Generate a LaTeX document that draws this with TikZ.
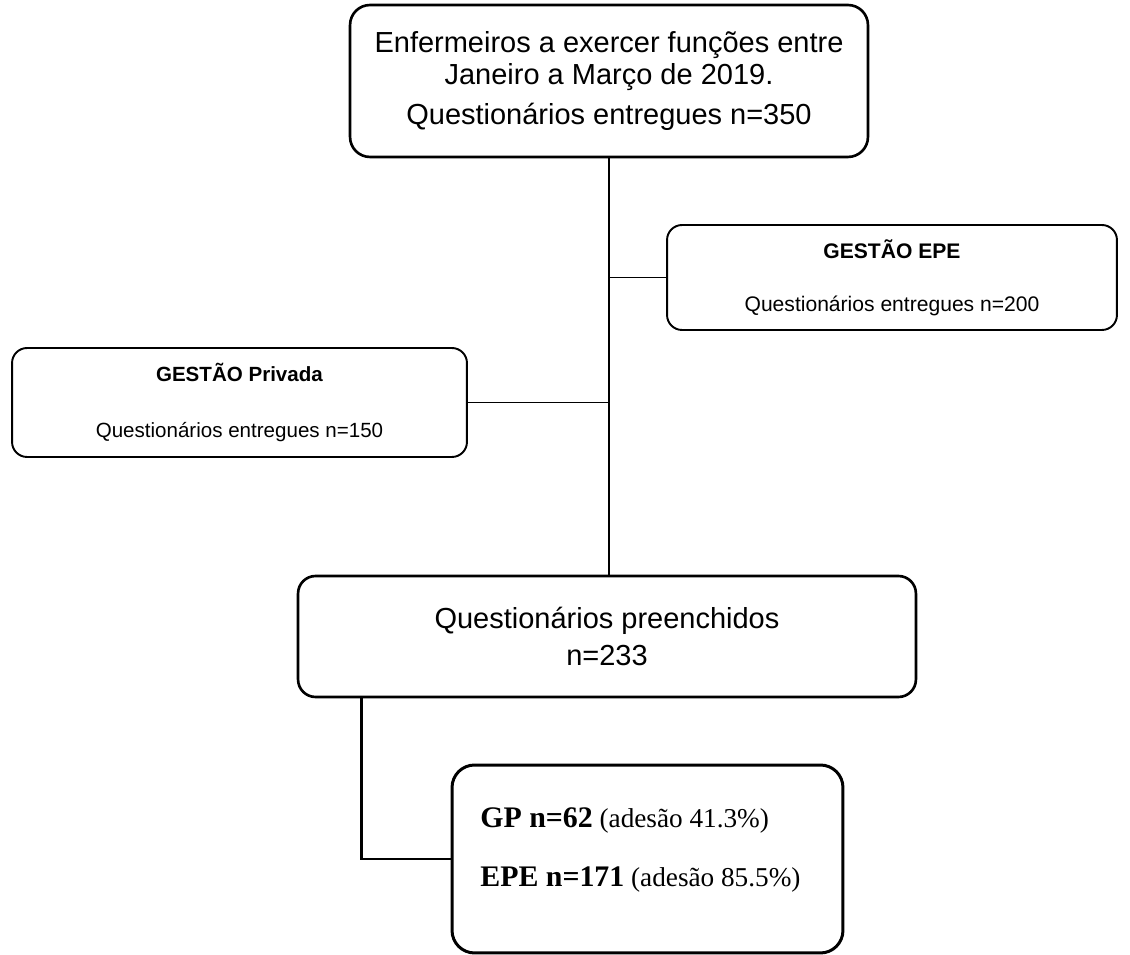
\documentclass[tikz,border=0pt]{standalone}
\usepackage{fontspec}
\setmainfont{Liberation Sans}
\newfontfamily\serifbox{Liberation Serif}
\usetikzlibrary{calc}
\begin{document}
\begin{tikzpicture}[x=0.02cm,y=-0.02cm,
    qBoxMain/.style={draw=black,line width=1.5pt,rounded corners=0.4cm,align=center,inner sep=0pt},
    qBoxSide/.style={draw=black,line width=1.1pt,rounded corners=0.3cm,align=center,inner sep=0pt},
    qLink/.style={line width=1.6pt},
    qLinkThin/.style={line width=1.1pt},
]
\useasboundingbox (0,0) rectangle (1130,955);
% Population
\node[qBoxMain,minimum width=10.36cm,minimum height=3.04cm,
      font=\fontsize{16.5}{18.1}\selectfont] (pop) at (609,81)
  {Enfermeiros a exercer funções entre\\Janeiro a Março de 2019.\\[4.6pt]Questionários entregues n=350};
% Branches
\node[qBoxSide,minimum width=9.0cm,minimum height=2.1cm,
      font=\fontsize{12}{30}\selectfont] (epe) at (892,277.5)
  {\textbf{GESTÃO EPE}\\Questionários entregues n=200};
\node[qBoxSide,minimum width=9.1cm,minimum height=2.18cm,
      font=\fontsize{11.7}{32}\selectfont] (priv) at (239.5,402.5)
  {\textbf{GESTÃO Privada}\\Questionários entregues n=150};
% Filled in
\node[qBoxMain,minimum width=12.36cm,minimum height=2.42cm,rounded corners=0.35cm,
      font=\fontsize{16.5}{21}\selectfont] (fill) at (607,636.5)
  {Questionários preenchidos\\n=233};
% Result
\node[qBoxMain,line width=1.7pt,minimum width=7.82cm,minimum height=3.76cm,rounded corners=0.45cm] (res) at (647.5,859) {};
\node[anchor=west,align=left,inner sep=0pt,font=\serifbox\fontsize{15.5}{33.5}\selectfont] (resTxt) at (480,850)
  {{\fontsize{17}{33.5}\selectfont\bfseries GP n=62} (adesão 41.3\%)\\
   {\fontsize{17}{33.5}\selectfont\bfseries EPE n=171} (adesão 85.5\%)};
% Connectors
\draw[qLink] (pop.south) -- (pop.south |- fill.north);
\draw[qLinkThin] (pop.south |- epe.west) -- (epe.west);
\draw[qLinkThin] (priv.east) -- (priv.east -| pop.south);
\coordinate (elbow) at ($(fill.south west)+(65,0)$);
\draw[qLink] (elbow) |- (res.west);
\end{tikzpicture}
\end{document}
